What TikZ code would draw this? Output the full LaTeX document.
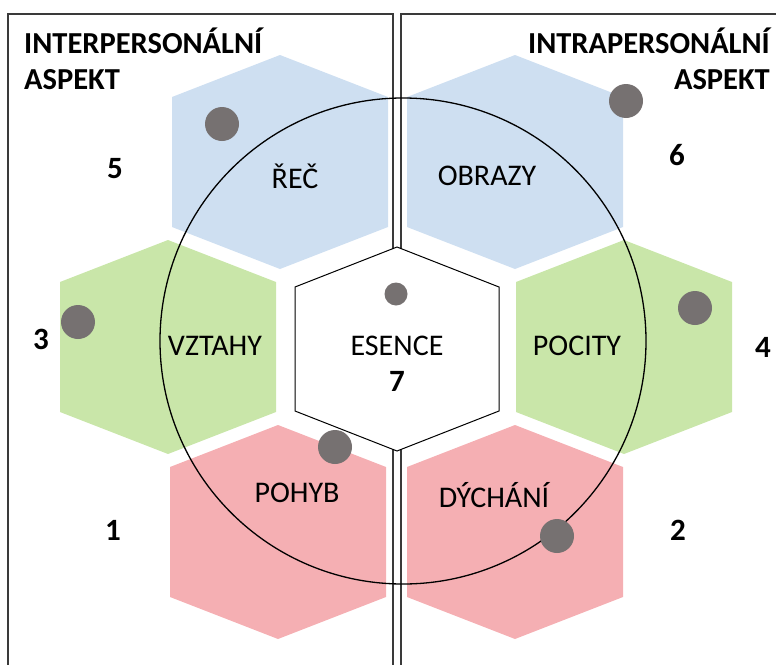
\documentclass[tikz,border=0pt]{standalone}
\usepackage{fontspec}
\setmainfont{Carlito}
\usepackage{tikz}

\definecolor{hexblue}{HTML}{CEDFF1}
\definecolor{hexgreen}{HTML}{C9E6A9}
\definecolor{hexpink}{HTML}{F5AFB3}
\definecolor{dotgray}{HTML}{767171}
\definecolor{framegray}{HTML}{3A3A3A}

\tikzset{
  framel/.style={draw=framegray, line width=1.2pt},
  hexlabel/.style={font=\fontsize{30}{36}\selectfont, anchor=base, inner sep=0pt},
  numlabel/.style={font=\fontsize{31}{36}\selectfont\bfseries, anchor=base, inner sep=0pt},
  aspect/.style={font=\fontsize{30.5}{36}\selectfont\bfseries, inner sep=0pt}
}

\begin{document}
\begin{tikzpicture}[x=1pt,y=-1pt]
		\useasboundingbox (0,0) rectangle (776,664);
		% six coloured hexagons
		\foreach \cx/\cy/\col in {280/162/hexblue,515/162/hexblue,168/347/hexgreen,624/347/hexgreen,278/532/hexpink,515/532/hexpink}
			\fill[\col] (\cx,\cy) ++(-108,-65) -- ++(108,-42) -- ++(108,42) -- ++(0,130) -- ++(-108,42) -- ++(-108,-42) -- cycle;
		% the two frames
		\draw[framel] (8,670) -- (8,14) -- (393,14) -- (393,670);
		\draw[framel] (780,14) -- (401,14) -- (401,670);
		% centre hexagon
		\filldraw[fill=white, draw=black, line width=1pt] (397,349) ++(-102,-62) -- ++(102,-40) -- ++(102,40) -- ++(0,124) -- ++(-102,40) -- ++(-102,-40) -- cycle;
		\draw[line width=1.3pt] (403,341) circle (243pt);
		% dots
		\foreach \px/\py/\r in {222/124/17,626/101/17,78/322/17,396/294/11.5,695/308/17,335/447/17,557/536/17}
			\fill[dotgray] (\px,\py) circle (\r pt);
		% texts
		\node[aspect, anchor=north west, align=left] (inter) at (24,28) {INTERPERSONÁLNÍ\\ASPEKT};
		\node[aspect, anchor=north east, align=right] (intra) at (770,28) {INTRAPERSONÁLNÍ\\ASPEKT};
		\node[hexlabel] (rec) at (295,188) {ŘEČ};
		\node[hexlabel] (obrazy) at (487,185) {OBRAZY};
		\node[hexlabel] (vztahy) at (215,355) {VZTAHY};
		\node[hexlabel] (esence) at (397,355) {ESENCE};
		\node[hexlabel] (pocity) at (577,355) {POCITY};
		\node[hexlabel] (pohyb) at (297,502) {POHYB};
		\node[hexlabel] (dychani) at (494,507) {DÝCHÁNÍ};
		\node[numlabel] (n7) at (397,391) {7};
		\node[numlabel] (n5) at (115,178) {5};
		\node[numlabel] (n6) at (677,165) {6};
		\node[numlabel] (n3) at (41,349) {3};
		\node[numlabel] (n4) at (763,357) {4};
		\node[numlabel] (n1) at (113,540) {1};
		\node[numlabel] (n2) at (678,540) {2};
	\end{tikzpicture}
\end{document}
